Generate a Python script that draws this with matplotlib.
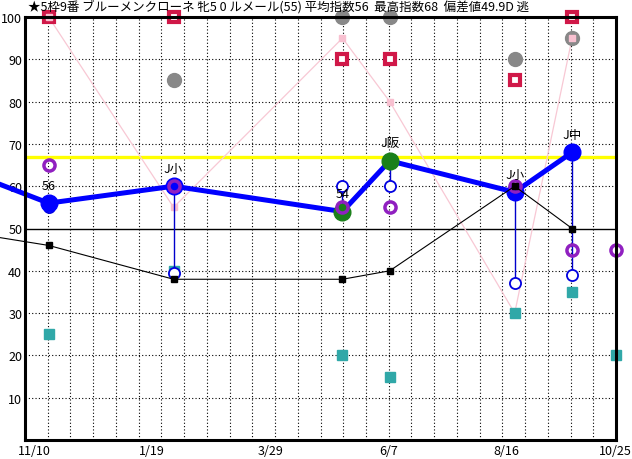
import matplotlib
matplotlib.use("Agg")
import matplotlib.pyplot as plt
import matplotlib.transforms as mtransforms
import numpy as np

plt.rcParams['font.family'] = ['Noto Sans CJK JP', 'DejaVu Sans']

title = "★5枠9番 ブルーメンクローネ 牝5 0 ルメール(55) 平均指数56  最高指数68  偏差値49.9D 逃"

# x positions in days counted from 11/10
date_labels = ["11/10", "1/19", "3/29", "6/7", "8/16", "10/25"]
date_days = [0, 70, 140, 210, 280, 350]

race_days = [14, 88, 188, 216, 290, 324]
prev_day = -25
next_day = 350

main_idx = [56, 60, 54, 66, 58.6, 68]
main_prev = 62
main_color = ["blue", "blue", "green", "green", "blue", "blue"]
race_names = ["56", "J小", "54", "J阪", "J小", "J中"]

black_idx = [46, 38, 38, 40, 60, 50]
black_prev = 48.5
pink_idx = [100, 55, 95, 80, 30, 95]
crimson_idx = [100, 100, 90, 90, 85, 100]
grey_idx = [np.nan, 85, 100, 100, 90, 95]
purple_idx = [65, 60, 55, 55, 60, 45]
purple_next = 45
blue_small = [55, 39.5, 60, 60, 37, 39]
teal_idx = [25, 40, 20, 15, 30, 35]
teal_next = 20

avg_line = 67

fig = plt.figure(figsize=(6.32, 4.60), dpi=100)
ax = fig.add_axes([25 / 632, 19 / 460, 591 / 632, 423 / 460])
ax.set_xlim(0, 350)
ax.set_ylim(0, 100)

# grid
for gx in np.linspace(0, 350, 27)[1:-1]:
    ax.axvline(gx, color='k', linestyle=(0, (1, 2)), linewidth=0.8, zorder=0)
for gy in range(10, 100, 10):
    if gy == 50:
        ax.axhline(gy, color='k', linewidth=1.0, zorder=1)
    else:
        ax.axhline(gy, color='k', linestyle=(0, (1, 2)), linewidth=0.8, zorder=0)

ax.axhline(avg_line, color='#ffff00', linewidth=2.4, zorder=1.5)

# pink line
ax.plot(race_days, pink_idx, color='#f8c8d4', linewidth=0.9, zorder=2)
ax.plot(race_days, pink_idx, linestyle='none', marker='s', markersize=5,
        color='#f8c0d0', zorder=4, clip_on=False)

ax.plot(race_days, crimson_idx, linestyle='none', marker='s', markersize=6.5,
        markerfacecolor='white', markeredgecolor='#d01848', markeredgewidth=3,
        zorder=3, clip_on=False)
ax.plot(race_days, grey_idx, linestyle='none', marker='o', markersize=10,
        color='#888888', zorder=3, clip_on=False)

ax.plot(race_days + [next_day], teal_idx + [teal_next], linestyle='none',
        marker='s', markersize=7, color='#30a8a8', zorder=5, clip_on=False)

# vertical blue lines from index to small circle
for d, m, b in zip(race_days, main_idx, blue_small):
    ax.plot([d, d], [m, b], color='#0000cc', linewidth=1.0, zorder=5)
ax.plot(race_days, blue_small, linestyle='none', marker='o', markersize=8,
        markerfacecolor='white', markeredgecolor='#0000e0', markeredgewidth=1.3,
        zorder=5.5)

# main index line
ax.plot([prev_day] + race_days, [main_prev] + main_idx, color='#0000ff',
        linewidth=3.6, zorder=6, clip_on=False)
for d, m, c in zip(race_days, main_idx, main_color):
    ax.plot(d, m, marker='o', markersize=12,
            color='#0000ff' if c == 'blue' else '#1a801a', zorder=7)

ax.plot(race_days + [next_day], purple_idx + [purple_next], linestyle='none',
        marker='o', markersize=8, markerfacecolor='none',
        markeredgecolor='#9020c0', markeredgewidth=2.5, zorder=8, clip_on=False)

# black line
ax.plot([prev_day] + race_days, [black_prev] + black_idx, color='k',
        linewidth=0.8, zorder=9, clip_on=False)
ax.plot(race_days, black_idx, linestyle='none', marker='s', markersize=4.5,
        color='k', zorder=9)

for d, m, n in zip(race_days, main_idx, race_names):
    ax.annotate(n, (d, m), xytext=(0, 13), textcoords='offset points',
                ha='center', va='center', fontsize=9, zorder=10)

# axes styling
for s in ax.spines.values():
    s.set_linewidth(2.2)
    s.set_zorder(10)
ax.set_yticks(range(10, 101, 10))
ax.set_yticklabels([str(v) for v in range(10, 101, 10)], fontsize=9)
ax.tick_params(axis='y', length=0, pad=2)
ax.set_xticks([])

for i, (lab, d) in enumerate(zip(date_labels, date_days)):
    if i == len(date_labels) - 1:
        off = mtransforms.ScaledTranslation(16 / 100, -4 / 100, fig.dpi_scale_trans)
        ha = 'right'
    else:
        off = mtransforms.ScaledTranslation(9 / 100, -4 / 100, fig.dpi_scale_trans)
        ha = 'center'
    ax.text(d, 0, lab, transform=ax.get_xaxis_transform() + off,
            ha=ha, va='top', fontsize=9)

fig.text(28 / 632, 1 - 7 / 460, title, ha='left', va='center', fontsize=9.0)

fig.savefig("out.png", dpi=100)
